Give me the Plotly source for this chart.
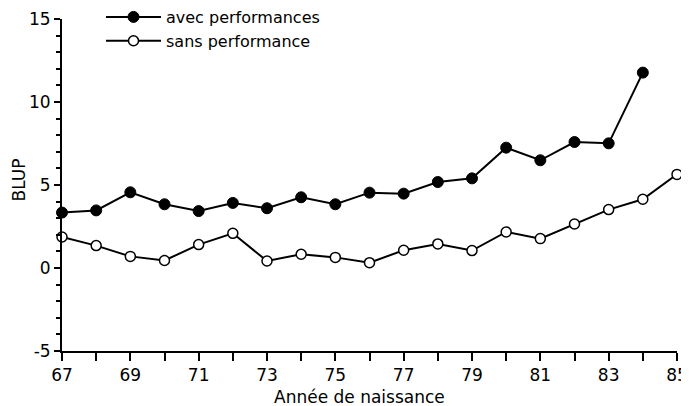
import plotly.graph_objects as go

years = list(range(67, 86))
avec = [3.34, 3.47, 4.56, 3.84, 3.43, 3.92, 3.60, 4.26, 3.84, 4.54, 4.48, 5.18, 5.40, 7.25, 6.49, 7.59, 7.51, 11.77]
sans = [1.87, 1.35, 0.70, 0.45, 1.41, 2.09, 0.42, 0.83, 0.64, 0.32, 1.07, 1.45, 1.05, 2.17, 1.77, 2.65, 3.52, 4.14, 5.64]
x_tick_labels = ["67", "69", "71", "73", "75", "77", "79", "81", "83", "85"]
y_tick_labels = ["-5", "0", "5", "10", "15"]

FONT = "DejaVu Sans"

fig = go.Figure()
fig.add_trace(go.Scatter(
    x=years[:len(avec)], y=avec, name="avec performances", mode="lines+markers",
    line=dict(color="black", width=2),
    marker=dict(symbol="circle", size=11, color="black", line=dict(color="black", width=1)),
    cliponaxis=False,
))
fig.add_trace(go.Scatter(
    x=years, y=sans, name="sans performance", mode="lines+markers",
    line=dict(color="black", width=2),
    marker=dict(symbol="circle", size=10, color="white", line=dict(color="black", width=1.5)),
    cliponaxis=False,
))

# page body has an 8px margin, so the figure is drawn 8px right/down
fig.update_layout(
    width=681, height=398,
    margin=dict(l=54, r=12, t=11, b=55, autoexpand=False),
    paper_bgcolor="white", plot_bgcolor="white",
    font=dict(family=FONT, size=17, color="black"),
    legend=dict(x=(101 - 62) / 615, y=1 + 19 / 332, xanchor="left", yanchor="top",
                bgcolor="rgba(0,0,0,0)", font=dict(size=16), tracegroupgap=0,
                itemwidth=55),
    annotations=[
        dict(text="Année de naissance", xref="paper", yref="paper",
             x=(359 - 62) / 615, y=-(397 - 351) / 332, xanchor="center", yanchor="middle",
             showarrow=False, font=dict(size=17)),
        dict(text="BLUP", xref="paper", yref="paper", textangle=-90,
             x=(18.5 - 62) / 615, y=(351 - 180) / 332, xanchor="center", yanchor="middle",
             showarrow=False, font=dict(size=17)),
    ],
)
fig.update_xaxes(
    range=[67, 85], showgrid=False, zeroline=False,
    showline=True, linecolor="black", linewidth=2,
    tickmode="array", tickvals=[int(t) for t in x_tick_labels], ticktext=x_tick_labels,
    ticks="outside", ticklen=8, tickwidth=2, tickcolor="black",
    ticklabelstandoff=0, automargin=False,
    minor=dict(dtick=1, tick0=67, ticks="outside", ticklen=8, tickwidth=2, tickcolor="black"),
)
fig.update_yaxes(
    range=[-5, 15], showgrid=False, zeroline=False,
    showline=True, linecolor="black", linewidth=2,
    tickmode="array", tickvals=[int(t) for t in y_tick_labels], ticktext=y_tick_labels,
    ticks="outside", ticklen=6, tickwidth=2, tickcolor="black", automargin=False,
    minor=dict(dtick=1, tick0=0, ticks="outside", ticklen=4, tickwidth=1.5, tickcolor="black"),
)

fig.write_html("out.html")
